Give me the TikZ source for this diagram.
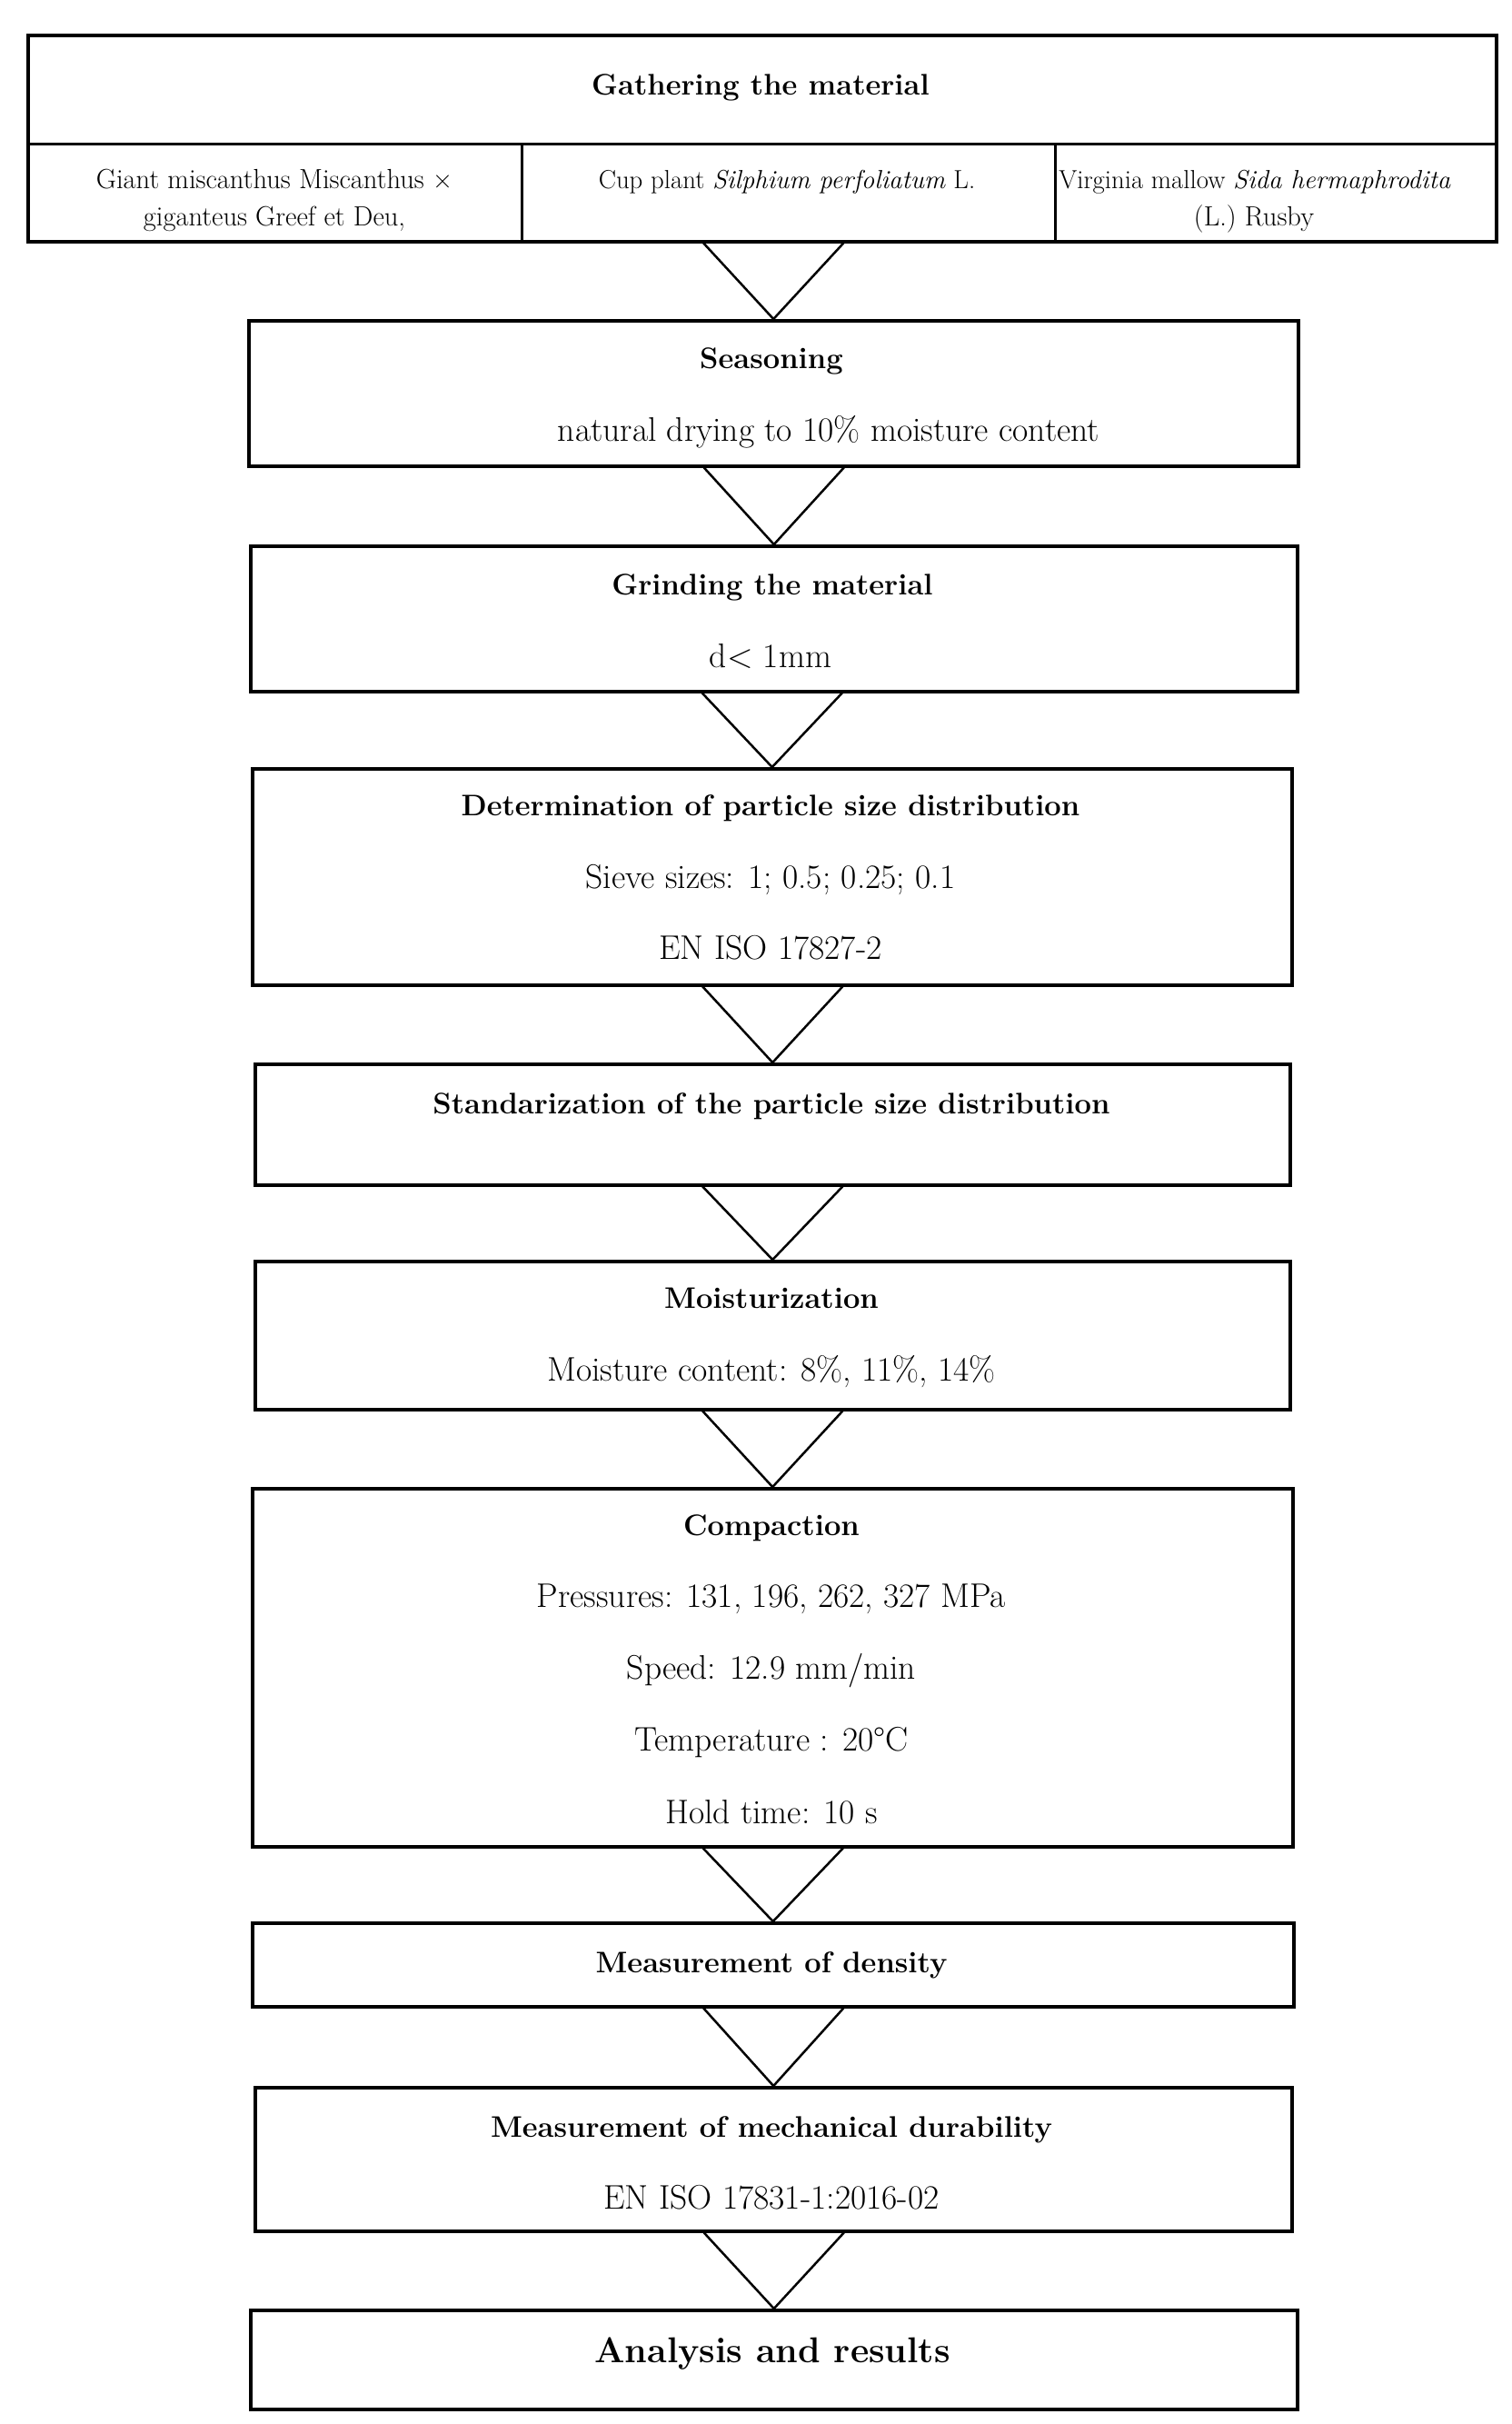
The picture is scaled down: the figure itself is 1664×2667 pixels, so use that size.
\documentclass[tikz,border=0pt]{standalone}
\usepackage{fontspec}
\begin{document}
\begin{tikzpicture}[x=1pt,y=-1pt,
  procbox/.style={draw, line width=3.5pt, inner sep=0, anchor=north west},
  vshape/.style={line width=2.5pt, line join=miter},
  ttl/.style={font=\fontsize{32.7}{38}\selectfont\bfseries, anchor=base, inner sep=0},
  txt/.style={font=\fontsize{37.5}{42}\selectfont, anchor=base, inner sep=0},
  small/.style={font=\fontsize{30.5}{35}\selectfont, anchor=base, inner sep=0},
  smalli/.style={font=\fontsize{28.8}{34}\selectfont, anchor=base, inner sep=0},
  big/.style={font=\fontsize{39.5}{46}\selectfont\bfseries, anchor=base, inner sep=0}]
\useasboundingbox[fill=white] (0,0) rectangle (1664,2667);

% top box
\node[procbox, minimum width=1616pt, minimum height=227pt] (gather) at (29,37) {};
\draw[line width=3pt] (29,158) -- (1645,158);
\draw[line width=3pt] (574,158) -- (574,264);
\draw[line width=3pt] (1161,158) -- (1161,264);
\node[ttl] (gt) at (837,104) {Gathering the material};
\node[small] (c1a) at (302,207) {Giant miscanthus Miscanthus ×};
\node[small] (c1b) at (302,248) {giganteus Greef et Deu,};
\node[smalli] (c2a) at (866,207) {Cup plant \textit{Silphium perfoliatum} L.};
\node[smalli] (c3a) at (1381,207) {Virginia mallow \textit{Sida hermaphrodita}};
\node[small] (c3b) at (1380,248) {(L.) Rusby};

% boxes
\node[procbox, minimum width=1155pt, minimum height=160pt] (b1) at (272,351) {};
\node[ttl] (b1t) at (849,405) {Seasoning};
\node[txt] (b1s) at (912,485) {natural drying to 10\% moisture content};

\node[procbox, minimum width=1152pt, minimum height=160pt] (b2) at (274,599) {};
\node[ttl] (b2t) at (850,654) {Grinding the material};
\node[txt] (b2s) at (848,734) {d< 1mm};

\node[procbox, minimum width=1144pt, minimum height=238pt] (b3) at (276,844) {};
\node[ttl] (b3t) at (848,897) {Determination of particle size distribution};
\node[txt] (b3s) at (848,977) {Sieve sizes: 1; 0.5; 0.25; 0.1};
\node[txt] (b3u) at (848,1055) {EN ISO 17827-2};

\node[procbox, minimum width=1139pt, minimum height=133pt] (b4) at (279,1169) {};
\node[ttl] (b4t) at (849,1225) {Standarization of the particle size distribution};

\node[procbox, minimum width=1139pt, minimum height=163pt] (b5) at (279,1386) {};
\node[ttl] (b5t) at (849,1439) {Moisturization};
\node[txt] (b5s) at (849,1519) {Moisture content: 8\%, 11\%, 14\%};

\node[procbox, minimum width=1145pt, minimum height=394pt] (b6) at (276,1636) {};
\node[ttl] (b6t) at (849,1689) {Compaction};
\node[txt] (b6a) at (849,1768) {Pressures: 131, 196, 262, 327 MPa};
\node[txt] (b6b) at (849,1847) {Speed: 12.9 mm/min};
\node[txt] (b6c) at (849,1926) {Temperature : 20°C};
\node[txt] (b6d) at (849,2006) {Hold time: 10 s};

\node[procbox, minimum width=1146pt, minimum height=92pt] (b7) at (276,2114) {};
\node[ttl] (b7t) at (849,2170) {Measurement of density};

\node[procbox, minimum width=1141pt, minimum height=158pt] (b8) at (279,2295) {};
\node[ttl] (b8t) at (849,2351) {Measurement of mechanical durability};
\node[txt] (b8s) at (849,2430) {EN ISO 17831-1:2016-02};

\node[procbox, minimum width=1152pt, minimum height=109pt] (b9) at (274,2540) {};
\node[big] (b9t) at (850,2599) {Analysis and results};

% V connectors
\foreach \a/\b in {gather/b1,b1/b2,b2/b3,b3/b4,b4/b5,b5/b6,b6/b7,b7/b8,b8/b9}{
  \draw[vshape] ([xshift=-77pt]\b.north |- \a.south) -- (\b.north) -- ([xshift=77pt]\b.north |- \a.south);
}
\end{tikzpicture}
\end{document}
